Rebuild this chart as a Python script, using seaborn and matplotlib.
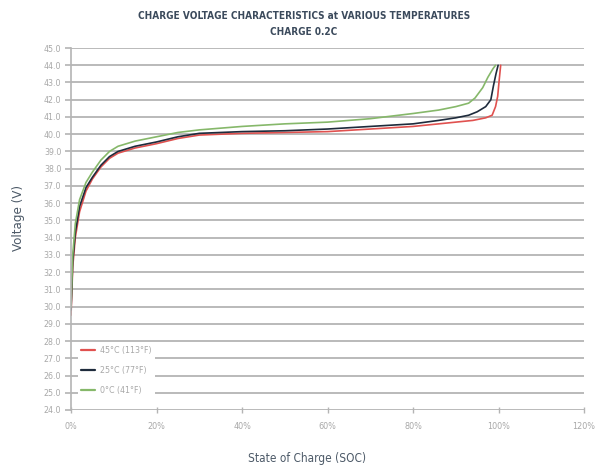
import pandas as pd
import numpy as np
import matplotlib.pyplot as plt
import seaborn as sns

# (SOC in %, voltage as labelled on the axis)
soc_45 = [0, 0.4, 1, 2, 3.5, 5, 7, 9, 11, 15, 20, 25, 30, 40, 50, 60, 70, 80, 86, 90, 94, 97, 98.5, 99.3, 99.8, 100.1, 100.5]
volt_45 = [29.5, 32.3, 34.0, 35.5, 36.7, 37.4, 38.1, 38.6, 38.9, 39.2, 39.45, 39.75, 39.95, 40.05, 40.1, 40.15, 40.3,
           40.45, 40.6, 40.7, 40.8, 40.95, 41.1, 41.6, 42.2, 43.0, 44.0]

soc_25 = [0, 0.4, 1, 2, 3.5, 5, 7, 9, 11, 15, 20, 25, 30, 40, 50, 60, 70, 80, 86, 90, 93, 95, 97, 98.2, 98.8, 99.4, 99.9]
volt_25 = [29.8, 32.6, 34.3, 35.8, 36.9, 37.5, 38.2, 38.7, 39.0, 39.3, 39.55, 39.85, 40.05, 40.15, 40.2, 40.3, 40.45,
           40.6, 40.8, 40.95, 41.1, 41.3, 41.6, 42.0, 42.8, 43.5, 44.0]

soc_0 = [0, 0.4, 1, 2, 3.5, 5, 7, 9, 11, 15, 20, 25, 30, 40, 50, 60, 70, 75, 80, 86, 90, 93, 94.5, 96.3, 97.5, 98.7, 99.3]
volt_0 = [30.0, 33.0, 34.8, 36.2, 37.2, 37.8, 38.5, 39.0, 39.3, 39.6, 39.85, 40.1, 40.25, 40.45, 40.6, 40.7, 40.9,
          41.05, 41.2, 41.4, 41.6, 41.8, 42.1, 42.7, 43.3, 43.8, 44.0]

labels = ["45°C (113°F)", "25°C (77°F)", "0°C (41°F)"]
colors = ["#e0514f", "#1e2b3c", "#86b86a"]

x_ticks = [0, 20, 40, 60, 80, 100, 120]
y_ticks = np.arange(24, 46, 1)

frames = []
for lab, s, v in zip(labels, [soc_45, soc_25, soc_0], [volt_45, volt_25, volt_0]):
    frames.append(pd.DataFrame({"soc": s, "volt": v, "temp": lab}))
df = pd.concat(frames, ignore_index=True)

sns.set_style("white")
plt.rcParams['font.family'] = ['Liberation Sans Narrow', 'DejaVu Sans']
plt.rcParams['font.stretch'] = 'condensed'

fig = plt.figure(figsize=(6.08, 4.73), dpi=100)
ax = fig.add_axes([0.1168, 0.1332, 0.8438, 0.7653])

sns.lineplot(data=df, x="soc", y="volt", hue="temp", palette=dict(zip(labels, colors)),
             sort=False, estimator=None, linewidth=1.2, ax=ax, legend=False)

ax.set_xlim(0, 120)
ax.set_ylim(24, 45)
ax.set_xticks(x_ticks)
ax.set_xticklabels([f"{t}%" for t in x_ticks])
ax.set_yticks(y_ticks)
ax.set_yticklabels([f"{t:.1f}" for t in y_ticks])
ax.yaxis.grid(True, color="#b4b4b4", linewidth=1.3)
ax.set_axisbelow(True)
for side in ["top", "right", "bottom"]:
    ax.spines[side].set_visible(False)
ax.spines["left"].set_color("#b4b4b4")
ax.spines["left"].set_linewidth(1.2)
ax.tick_params(axis="y", left=True, length=4, width=1.2, color="#b4b4b4",
               labelsize=6.3, labelcolor="#a8a8a8", pad=3)
ax.tick_params(axis="x", bottom=True, direction="inout", length=5, width=1, color="#b4b4b4",
               labelsize=6.5, labelcolor="#a8a8a8", pad=6)

ax.set_xlabel("State of Charge (SOC)", fontsize=8.5, color="#4d5a68")
ax.xaxis.set_label_coords(0.46, -0.115)
ax.set_ylabel("Voltage (V)", fontsize=9.5, color="#4d5a68")
ax.yaxis.set_label_coords(-0.09, 0.53)
fig.suptitle("CHARGE VOLTAGE CHARACTERISTICS at VARIOUS TEMPERATURES\nCHARGE 0.2C",
             fontsize=7.2, fontweight="bold", color="#3b4a5c", y=0.976, linespacing=1.75)

handles = [plt.Line2D([], [], color=c, linewidth=1.6) for c in colors]
leg = ax.legend(handles, labels, loc="lower left", bbox_to_anchor=(0.005, 0.02),
                frameon=True, facecolor="white", edgecolor="none", framealpha=1,
                fontsize=6.3, labelcolor="#a8a8a8", handlelength=1.6, labelspacing=1.25,
                borderpad=0.4, handletextpad=0.5)

fig.savefig("out.png", dpi=100)
